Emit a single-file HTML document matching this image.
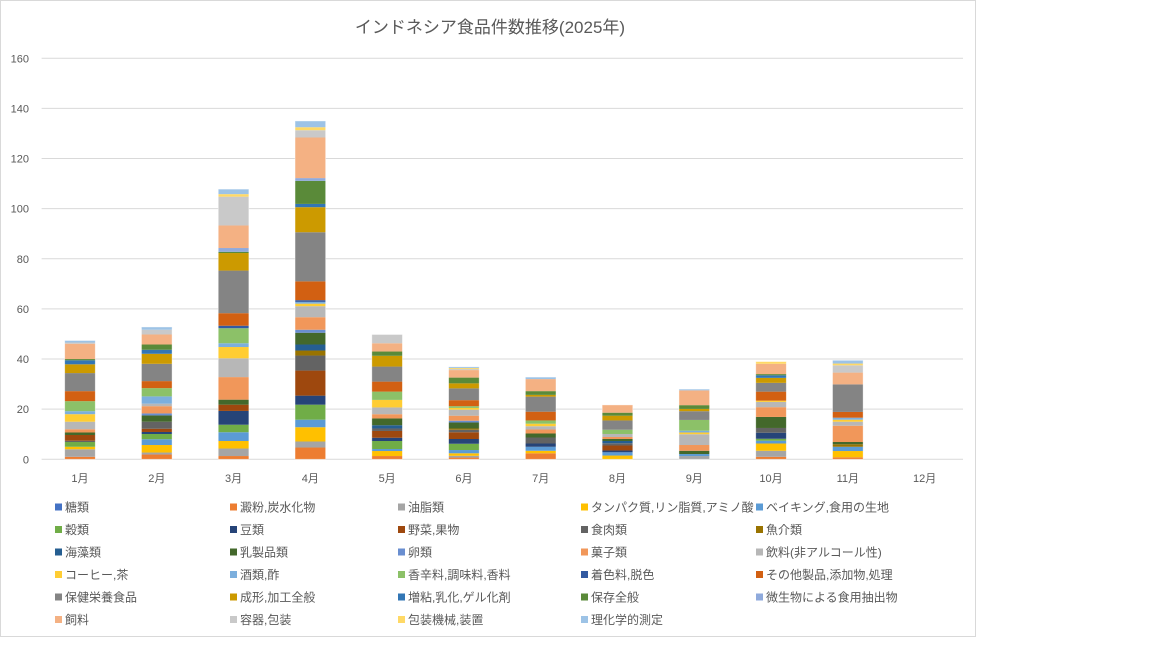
<!DOCTYPE html>
<html><head><meta charset="utf-8">
<style>
html,body{margin:0;padding:0;background:#fff;}
body{width:1152px;height:648px;overflow:hidden;position:relative;font-family:"Liberation Sans","Noto Sans CJK JP",sans-serif;}
</style></head>
<body>
<svg id="c" width="1152" height="648" xmlns="http://www.w3.org/2000/svg" style="position:absolute;left:0;top:0;font-family:'Liberation Sans','Noto Sans CJK JP',sans-serif;">
<rect x="0.5" y="0.5" width="975" height="636" fill="#fff" stroke="#d9d9d9"/>
<text x="490" y="33" text-anchor="middle" font-size="17" fill="#595959">インドネシア食品件数推移(2025年)</text>
</svg>
<script>
const colors=["#4472C4","#ED7D31","#A5A5A5","#FFC000","#5B9BD5","#70AD47","#264478","#9E480E","#636363","#997300","#255E91","#43682B","#698ED0","#F1975A","#B7B7B7","#FFCD33","#7CAFDD","#8CC168","#335AA1","#D26012","#848484","#CC9A00","#3276B5","#5A8A39","#8FAADC","#F4B183","#C9C9C9","#FFD966","#9DC3E6"];
const names=["糖類","澱粉,炭水化物","油脂類","タンパク質,リン脂質,アミノ酸","ベイキング,食用の生地","穀類","豆類","野菜,果物","食肉類","魚介類","海藻類","乳製品類","卵類","菓子類","飲料(非アルコール性)","コーヒー,茶","酒類,酢","香辛料,調味料,香料","着色料,脱色","その他製品,添加物,処理","保健栄養食品","成形,加工全般","増粘,乳化,ゲル化剤","保存全般","微生物による食用抽出物","飼料","容器,包装","包装機械,装置","理化学的測定"];
const bars=[
[[1,1],[2,3],[3,1],[5,1.9],[8,0.5],[7,2.3],[11,1],[13,1.3],[14,3],[15,3],[16,1.2],[17,4],[19,4],[20,7.2],[21,3.5],[22,1.6],[23,0.5],[25,6.1],[26,0.5],[28,0.8]],
[[1,1.9],[2,.8],[3,3],[4,2.3],[5,2.1],[6,.8],[7,1.3],[8,2.8],[11,2.5],[12,.8],[13,2.9],[14,1],[16,2.9],[17,3.3],[19,2.8],[20,6.9],[21,4],[22,1.6],[23,2.1],[25,4],[26,1.9],[28,1.1]],
[[1,1.3],[2,3],[3,3],[4,3.5],[5,3],[6,5.5],[7,2.5],[11,2],[13,9],[14,7.5],[15,4.5],[16,1.5],[17,6],[18,1],[19,5],[20,17],[21,7],[23,.5],[24,1.5],[25,9],[26,11.5],[27,1],[28,2]],
[[1,4.7],[2,2.4],[3,5.7],[4,3],[5,6],[6,3.6],[7,10],[8,6],[9,2],[10,2.4],[11,4.7],[12,1.2],[13,5],[14,4.4],[15,1],[16,.7],[18,.7],[19,7.5],[20,19.6],[21,10],[22,1.3],[23,9.2],[24,1.1],[25,16.2],[26,2.9],[27,1.2],[28,2.5]],
[[1,1.3],[3,2],[4,.8],[5,3.2],[6,1.3],[7,2.7],[8,1],[10,1.3],[11,2.7],[13,1.7],[14,2.7],[15,3],[17,3.3],[19,4],[20,6],[21,4.3],[23,1.7],[25,3.3],[26,3.5]],
[[1,.7],[2,.7],[3,1],[4,1.3],[5,2.5],[6,1.9],[7,2.7],[8,1],[9,.5],[11,2.4],[12,.7],[13,2],[14,2.4],[15,.7],[17,.7],[19,2.4],[20,4.7],[21,2],[23,2.3],[25,3],[26,.4],[27,.4],[28,.5]],
[[1,2.4],[3,1],[4,1.6],[6,1.3],[8,2.4],[11,1.6],[13,1.6],[14,1.3],[15,1],[17,1.3],[19,3.5],[20,6],[21,.7],[23,1.5],[25,4.8],[28,.8]],
[[3,1.5],[4,1.3],[6,.7],[7,2],[8,.9],[10,.9],[11,.8],[13,.8],[14,1.2],[17,1.7],[20,3.7],[21,1.9],[23,1.2],[25,3.1]],
[[2,1.3],[4,.8],[11,1.3],[13,2.3],[14,4.3],[15,.7],[16,.7],[17,4.3],[20,3.5],[21,.9],[23,1.5],[25,5.9],[28,.5]],
[[1,1],[2,2.4],[3,2.9],[4,1.1],[5,.8],[6,2.4],[8,1.9],[11,4.4],[13,3.9],[14,2.1],[15,.5],[19,3.6],[20,3.5],[21,2],[22,1],[23,.5],[25,4.1],[27,.9]],
[[1,.8],[3,2.5],[4,1.7],[9,1],[11,.9],[13,6.5],[14,1.6],[15,.8],[16,.8],[19,2.3],[20,11],[25,4.7],[26,2.9],[27,.7],[28,1.3]],
[]
];
const svg=document.getElementById('c');let h='';
const y0=459.3,k=2.50625,L=41.6,R=963,cw=(R-L)/12;
for(let v=0;v<=160;v+=20){const y=y0-v*k;
 h+=`<line x1="${L}" x2="${R}" y1="${y}" y2="${y}" stroke="#d9d9d9" stroke-width="1"/>`;
 h+=`<text x="29" y="${y+4}" text-anchor="end" font-size="11" fill="#595959">${v}</text>`;}
bars.forEach((b,i)=>{const cx=L+cw*(i+0.5);let acc=0;
 b.forEach(([s,v])=>{const yt=y0-(acc+v)*k;h+=`<rect x="${cx-15.3}" y="${yt}" width="30.6" height="${v*k}" fill="${colors[s]}"/>`;acc+=v;});
 if(b.length) h+=`<rect x="${cx-15.3}" y="${y0-acc*k}" width="30.6" height="${acc*k}" fill="none" stroke="#fff" stroke-opacity="0.5" stroke-width="0.8"/>`;
 h+=`<text x="${cx}" y="482" text-anchor="middle" font-size="11" fill="#595959">${i+1}月</text>`;});
const cols=[55,230,398,581,756];
names.forEach((n,i)=>{const c=i%5,r=Math.floor(i/5);const x=cols[c],y=507+r*22.5;
 h+=`<rect x="${x}" y="${y-3.5}" width="7" height="7" fill="${colors[i]}"/>`;
 h+=`<text x="${x+10}" y="${y+4.5}" font-size="12" fill="#595959">${n}</text>`;});
svg.insertAdjacentHTML('beforeend',h);
</script>
</body></html>
